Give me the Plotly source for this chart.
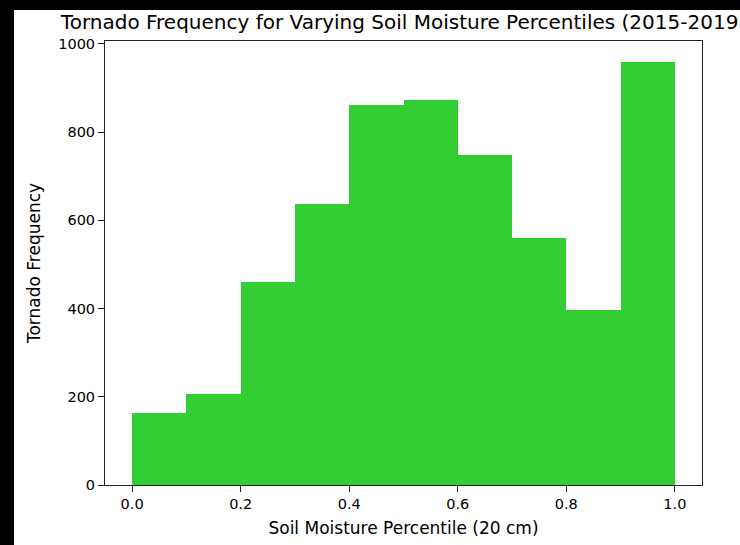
import plotly.graph_objects as go

# Data
bin_edges = [0.0, 0.1, 0.2, 0.3, 0.4, 0.5, 0.6, 0.7, 0.8, 0.9, 1.0]
counts = [163, 206, 461, 638, 862, 872, 747, 559, 397, 960]
x_ticks = [0.0, 0.2, 0.4, 0.6, 0.8, 1.0]
x_tick_labels = ["0.0", "0.2", "0.4", "0.6", "0.8", "1.0"]
y_ticks = [0, 200, 400, 600, 800, 1000]

centers = [(bin_edges[i] + bin_edges[i + 1]) / 2 for i in range(len(counts))]
widths = [bin_edges[i + 1] - bin_edges[i] for i in range(len(counts))]

FONT = "DejaVu Sans"
W, H = 740, 545
L, R, T, B = 105, 38, 41, 60
pw, ph = W - L - R, H - T - B

fig = go.Figure()
fig.add_trace(go.Bar(
    x=centers, y=counts, width=widths,
    marker=dict(color="#32CD32", line=dict(width=0)),
    hoverinfo="x+y",
))

fig.update_layout(
    width=W, height=H,
    margin=dict(l=L, r=R, t=T, b=B, pad=0),
    paper_bgcolor="white", plot_bgcolor="white",
    showlegend=False,
    bargap=0,
    font=dict(family=FONT, size=14.5, color="#000000"),
    title=dict(
        text="Tornado Frequency for Varying Soil Moisture Percentiles (2015-2019)",
        x=(L + pw / 2) / W, xanchor="center", xref="container",
        y=1 - 22 / H, yanchor="middle", yref="container",
        font=dict(family=FONT, size=20, color="#000000"),
    ),
    xaxis=dict(
        range=[-0.05, 1.05], tickvals=x_ticks, ticktext=x_tick_labels,
        showgrid=False, zeroline=False,
        showline=True, linecolor="#222222", linewidth=1, mirror=True,
        ticks="outside", ticklen=6, tickwidth=1, tickcolor="#222222",
        tickfont=dict(family=FONT, size=14.5, color="#000000"),
        title=dict(text="Soil Moisture Percentile (20 cm)", standoff=10,
                   font=dict(family=FONT, size=17, color="#000000")),
    ),
    yaxis=dict(
        range=[0, 1006.5], tickvals=y_ticks,
        showgrid=False, zeroline=False,
        showline=True, linecolor="#222222", linewidth=1, mirror=True,
        ticks="outside", ticklen=6, tickwidth=1, tickcolor="#222222",
        tickfont=dict(family=FONT, size=14.5, color="#000000"),
        title=dict(text="Tornado Frequency", standoff=13,
                   font=dict(family=FONT, size=17, color="#000000")),
    ),
    shapes=[
        dict(type="rect", xref="paper", yref="paper", layer="above",
             x0=-L / pw, x1=(14 - L) / pw, y0=-B / ph, y1=(H - B) / ph,
             fillcolor="black", line=dict(width=0)),
        dict(type="rect", xref="paper", yref="paper", layer="above",
             x0=-L / pw, x1=1 + R / pw, y0=(H - B - 10) / ph, y1=(H - B) / ph,
             fillcolor="black", line=dict(width=0)),
    ],
)

fig.write_html(
    "out.html",
    config={"displayModeBar": False},
    post_script="document.body.style.margin='0';document.body.style.overflow='hidden';",
)
